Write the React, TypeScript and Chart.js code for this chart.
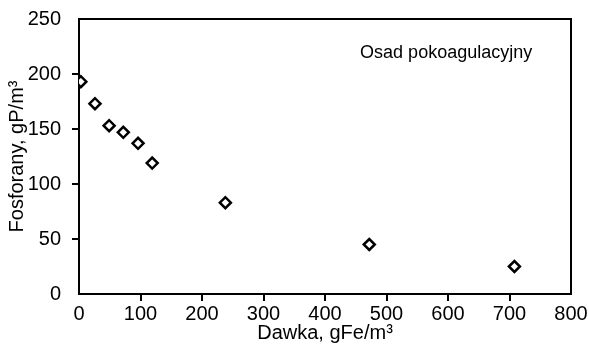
import React, { useEffect, useRef } from "react";
import { Chart, registerables } from "chart.js";

Chart.register(...registerables);

const doseValues = [3, 26, 49, 72, 96, 119, 238, 472, 708];
const phosphateValues = [193, 173, 153, 147, 137, 119, 83, 45, 25];
const seriesLabel = "Osad pokoagulacyjny";
const xTitle = "Dawka, gFe/m³";
const yTitle = "Fosforany, gP/m³";
const xTicksMin = 0, xTicksMax = 800, xStep = 100;
const yTicksMin = 0, yTicksMax = 250, yStep = 50;

const FONT = "'Liberation Sans', Arial, sans-serif";

export default function App() {
  const ref = useRef<HTMLCanvasElement | null>(null);
  useEffect(() => {
    document.body.style.margin = "0";
    const canvas = ref.current!;
    const endTransparent = (ctx: any) => {
      const n = ctx.scale?.ticks?.length ?? 0;
      return ctx.index === 0 || ctx.index === n - 1 ? "rgba(0,0,0,0)" : "#000";
    };
    const framePlugin = {
      id: "frame",
      afterDraw(chart: any) {
        const { ctx, chartArea, scales } = chart;
        ctx.save();
        ctx.strokeStyle = "#000";
        ctx.lineWidth = 2;
        ctx.beginPath();
        ctx.moveTo(chartArea.left, chartArea.top);
        ctx.lineTo(chartArea.right, chartArea.top);
        ctx.lineTo(chartArea.right, chartArea.bottom);
        ctx.stroke();
        ctx.fillStyle = "#000";
        ctx.font = `18px ${FONT}`;
        ctx.textAlign = "center";
        ctx.textBaseline = "middle";
        ctx.fillText(seriesLabel, scales.x.getPixelForValue(597), scales.y.getPixelForValue(219));
        ctx.restore();
      },
    };
    const chart = new Chart(canvas, {
      type: "scatter",
      data: {
        datasets: [
          {
            label: seriesLabel,
            data: doseValues.map((x, i) => ({ x, y: phosphateValues[i] })),
            pointStyle: "rectRot",
            pointRadius: 5.5,
            pointBorderWidth: 2.5,
            borderColor: "#000",
            backgroundColor: "#fff",
            pointBackgroundColor: "#fff",
            pointBorderColor: "#000",
          },
        ],
      },
      options: {
        animation: false,
        responsive: false,
        layout: { padding: { left: 0, top: 19, right: 18, bottom: 0 } },
        plugins: { legend: { display: false }, tooltip: { enabled: false } },
        scales: {
          x: {
            type: "linear",
            min: xTicksMin,
            max: xTicksMax,
            ticks: { stepSize: xStep, color: "#000", font: { family: FONT, size: 20 }, padding: 1, maxRotation: 0 },
            grid: { drawOnChartArea: false, drawTicks: true, tickLength: 7, lineWidth: 2, color: endTransparent },
            border: { display: true, color: "#000", width: 2 },
            title: { display: true, text: xTitle, color: "#000", font: { family: FONT, size: 20 }, padding: { top: 0, bottom: 2 } },
            afterFit: (s: any) => { s.height = 53; s.paddingLeft = 0; s.paddingRight = 0; },
          },
          y: {
            type: "linear",
            min: yTicksMin,
            max: yTicksMax,
            ticks: { stepSize: yStep, color: "#000", font: { family: FONT, size: 20 }, padding: 11 },
            grid: { drawOnChartArea: false, drawTicks: true, tickLength: 7, lineWidth: 2, color: endTransparent },
            border: { display: true, color: "#000", width: 2 },
            title: { display: true, text: yTitle, color: "#000", font: { family: FONT, size: 20 }, padding: { top: 5, bottom: 0 } },
            afterFit: (s: any) => { s.width = 79; s.paddingTop = 0; s.paddingBottom = 0; },
          },
        },
      },
      plugins: [framePlugin],
    } as any);
    return () => chart.destroy();
  }, []);
  return (
    <div style={{ position: "absolute", left: 0, top: 0, width: 589, height: 347, background: "#fff" }}>
      <canvas ref={ref} width={589} height={347} />
    </div>
  );
}
